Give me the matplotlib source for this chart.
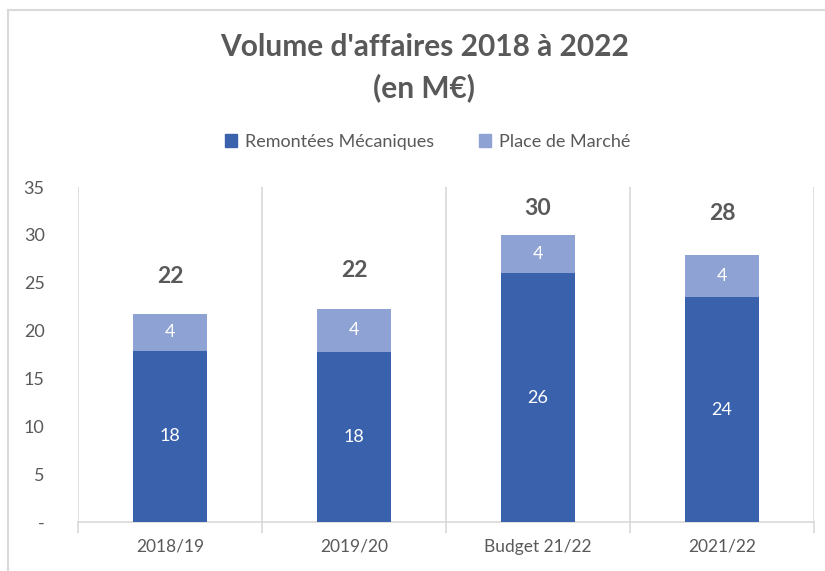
import matplotlib
matplotlib.use("Agg")
import matplotlib.pyplot as plt
from matplotlib.lines import Line2D
from matplotlib.patches import Patch

categories = ["2018/19", "2019/20", "Budget 21/22", "2021/22"]
remontees = [17.9, 17.8, 26.0, 23.5]
place = [3.8, 4.5, 4.0, 4.4]
remontees_labels = ["18", "18", "26", "24"]
place_labels = ["4", "4", "4", "4"]
total_labels = ["22", "22", "30", "28"]
yticks = [0, 5, 10, 15, 20, 25, 30, 35]
ytick_labels = ["-", "5", "10", "15", "20", "25", "30", "35"]

# label offsets above bar tops (style)
total_offsets = [3.9, 4.0, 2.8, 4.3]

plt.rcParams['font.family'] = ['Lato', 'DejaVu Sans']

dark = "#3A62AC"
light = "#8EA3D4"
grey_txt = "#595959"
grid_c = "#D9D9D9"

fig = plt.figure(figsize=(8.25, 5.71), dpi=100)
ax = fig.add_axes([78/825, 1-522/571, (814-78)/825, (522-187)/571])

x = list(range(len(categories)))
w = 0.4
b1 = ax.bar(x, remontees, width=w, color=dark, label="Remontées Mécaniques", zorder=3)
b2 = ax.bar(x, place, width=w, bottom=remontees, color=light, label="Place de Marché", zorder=3)

for i in x:
    ax.text(i, remontees[i] / 2, remontees_labels[i], ha="center", va="center",
            color="white", fontsize=13, zorder=4)
    ax.text(i, remontees[i] + place[i] / 2, place_labels[i], ha="center", va="center",
            color="white", fontsize=13, zorder=4)
    tot = remontees[i] + place[i]
    ax.text(i, tot + total_offsets[i], total_labels[i], ha="center", va="center",
            color=grey_txt, fontsize=16.5, fontweight="bold", zorder=4)

ax.set_xlim(-0.5, len(categories) - 0.5)
ax.set_ylim(0, 35)
ax.set_yticks(yticks)
ax.set_yticklabels(ytick_labels)
ax.set_xticks(x)
ax.set_xticklabels(categories)
seps = [i - 0.5 for i in range(len(categories) + 1)]
ax.set_xticks(seps, minor=True)
for s in seps:
    ax.axvline(s, color=grid_c, lw=1.2, zorder=1)

for sp in ["left", "right", "top"]:
    ax.spines[sp].set_visible(False)
ax.spines["bottom"].set_color(grid_c)
ax.spines["bottom"].set_linewidth(1.2)

ax.tick_params(axis="y", length=0, pad=24, labelsize=13, labelcolor=grey_txt)
ax.tick_params(axis="x", which="major", length=0, pad=12, labelsize=12.5, labelcolor=grey_txt)
ax.tick_params(axis="x", which="minor", length=8, width=1.2, color=grid_c, direction="out")

fig.text(0.5145, 1-47/571, "Volume d'affaires 2018 à 2022", ha="center", va="center",
         fontsize=21.5, fontweight="bold", color=grey_txt)
fig.text(0.5145, 1-88/571, "(en M€)", ha="center", va="center",
         fontsize=21.5, fontweight="bold", color=grey_txt)

handles = [Patch(color=dark), Patch(color=light)]
fig.legend(handles, ["Remontées Mécaniques", "Place de Marché"], loc="center",
           bbox_to_anchor=(0.518, 1-142/571), ncol=2, frameon=False, fontsize=13,
           labelcolor=grey_txt, handlelength=0.7, handleheight=0.7, handletextpad=0.4,
           columnspacing=2.5)

# chart border
fig.add_artist(Line2D([8/825, 8/825], [0, 1-10/571], color=grid_c, lw=1.5, transform=fig.transFigure))
fig.add_artist(Line2D([8/825, 1], [1-10/571, 1-10/571], color=grid_c, lw=1.5, transform=fig.transFigure))

fig.savefig("out.png", dpi=100)
